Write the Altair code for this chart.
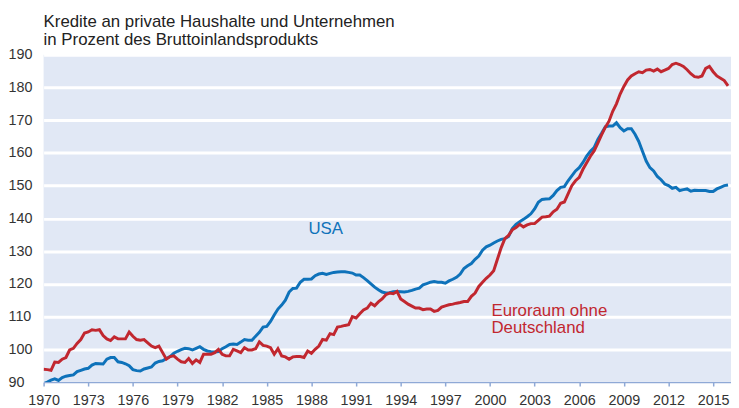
import altair as alt
import pandas as pd

# Quarterly observations, starting 1970 Q1
start_year = 1970
usa = [
    89.5, 90.0, 90.6, 91.0,   90.5, 91.4, 91.8, 92.0,   92.2, 93.2, 93.6, 94.0,
    94.2, 95.2, 95.7, 95.6,   95.5, 97.0, 97.5, 97.5,   96.2, 96.0, 95.6, 95.0,
    93.8, 93.5, 93.4, 94.0,   94.3, 94.6, 95.8, 96.3,   96.5, 97.2, 97.8, 98.8,
    99.4, 99.9, 100.3, 100.2, 99.8, 100.3, 100.8, 100.0, 99.5, 99.3, 99.2, 99.3,
    100.2, 100.8, 101.5, 101.6, 101.5, 102.2, 103.0, 102.8, 102.8, 104.0, 105.2, 106.8,
    107.0, 108.5, 110.5, 112.3, 113.5, 115.0, 117.5, 118.6, 118.7, 120.5, 121.4, 121.4,
    121.5, 122.5, 123.0, 123.2, 122.9, 123.2, 123.5, 123.6, 123.7, 123.7, 123.5, 123.3,
    122.7, 122.7, 121.9, 121.0, 120.0, 119.0, 118.2, 117.5, 117.2, 117.3, 117.6, 117.7,
    117.6, 117.5, 117.7, 118.0, 118.4, 118.7, 119.7, 120.1, 120.5, 120.7, 120.5, 120.5,
    120.2, 120.9, 121.4, 122.0, 123.0, 124.7, 125.5, 126.2, 127.5, 128.5, 130.3, 131.3,
    131.8, 132.5, 133.1, 133.6, 133.8, 134.5, 136.9, 138.2, 139.0, 139.7, 140.5, 141.4,
    142.9, 144.9, 145.8, 145.9, 146.0, 147.0, 148.5, 149.5, 149.7, 151.5, 153.0, 154.5,
    155.5, 157.1, 159.0, 160.5, 161.6, 164.1, 166.0, 168.0, 168.2, 168.2, 169.2, 167.7,
    166.7, 167.4, 167.4, 165.7, 163.5, 160.5, 157.5, 155.5, 154.5, 152.8, 151.8, 150.5,
    150.0, 149.2, 149.5, 148.5, 148.8, 149.0, 148.3, 148.6, 148.5, 148.5, 148.5, 148.2,
    148.2, 149.0, 149.5, 150.0, 150.2,
]
euro = [
    93.9, 93.8, 93.6, 96.1,   96.0, 97.0, 97.5, 99.8,   100.3, 101.8, 103.0, 105.0,
    105.3, 106.0, 105.8, 106.0, 104.2, 103.2, 102.7, 103.8, 103.2, 103.2, 103.2, 105.3,
    104.0, 103.0, 102.8, 103.0, 102.0, 101.0, 100.5, 101.0, 99.0, 97.0, 97.8, 98.0,
    97.0, 96.2, 96.0, 97.2,   95.7, 96.8, 96.0, 98.5,   98.5, 98.5, 99.0, 100.0,
    98.5, 98.0, 98.0, 100.0,  99.5, 99.0, 100.5, 99.8,  99.8, 100.2, 102.3, 101.2,
    101.0, 100.5, 98.5, 100.2, 98.0, 97.7, 97.0, 97.7,  97.8, 97.8, 97.5, 99.5,
    98.8, 100.0, 101.0, 103.0, 102.8, 104.8, 104.5, 106.8, 107.0, 107.3, 107.5, 110.0,
    109.6, 110.9, 112.0, 112.6, 114.1, 113.3, 114.5, 115.4, 116.7, 117.2, 117.0, 117.7,
    115.4, 114.6, 113.8, 113.2, 112.6, 112.6, 112.1, 112.3, 112.3, 111.6, 111.9, 112.9,
    113.3, 113.6, 113.8, 114.1, 114.3, 114.6, 114.6, 116.2, 117.2, 119.2, 120.5, 121.7,
    122.7, 124.0, 127.5, 131.0, 133.8, 134.8, 136.5, 137.2, 138.2, 137.4, 138.0, 138.4,
    138.4, 139.4, 140.4, 140.5, 140.7, 142.0, 142.8, 144.6, 145.0, 147.5, 150.0, 151.5,
    152.5, 155.0, 157.0, 159.0, 160.6, 163.0, 165.5, 167.8, 169.7, 172.7, 175.0, 178.0,
    180.3, 182.3, 183.5, 184.2, 184.8, 184.5, 185.3, 185.5, 185.0, 185.6, 184.8, 185.3,
    185.8, 187.0, 187.4, 187.0, 186.4, 185.4, 184.2, 183.3, 183.1, 183.5, 185.8, 186.4,
    184.8, 183.5, 182.8, 182.1, 180.5,
]

year_ticks = [1970, 1973, 1976, 1979, 1982, 1985, 1988, 1991, 1994, 1997,
              2000, 2003, 2006, 2009, 2012, 2015]
value_ticks = [90, 100, 110, 120, 130, 140, 150, 160, 170, 180, 190]

title_lines = ["Kredite an private Haushalte und Unternehmen",
               "in Prozent des Bruttoinlandsprodukts"]

label_texts = ["USA", "Euroraum ohne", "Deutschland"]
label_years = [1987.8, 2000.1, 2000.1]
label_values = [136.7, 111.8, 106.4]
label_series = ["USA", "Euro", "Euro"]

BLUE = "#0e72ba"
RED = "#c1272f"
FONT = "Liberation Sans"

years = [start_year + i * 0.25 for i in range(len(usa))]
df_usa = pd.DataFrame({"year": years, "value": usa})
df_euro = pd.DataFrame({"year": years[:len(euro)], "value": euro})
df_lab = pd.DataFrame({"text": label_texts, "year": label_years,
                       "value": label_values, "series": label_series})

x_scale = alt.Scale(domain=[1970, 2016.2], nice=False, zero=False)
y_scale = alt.Scale(domain=[90, 190], nice=False, zero=False)

x_axis = alt.Axis(values=year_ticks, format="d", title=None, grid=False,
                  domainColor="#8fa9d6", domainWidth=1.5, tickColor="#8fa9d6",
                  tickWidth=1.5, tickSize=4, labelPadding=8, labelFlush=False,
                  labelOverlap=False, labelFontSize=14.5, labelFont=FONT,
                  labelColor="#333333")
y_axis = alt.Axis(values=value_ticks, title=None, domain=False, ticks=False,
                  tickSize=0, labelAlign="left", labelBaseline="middle",
                  labelPadding=36, labelFontSize=14.5, labelFont=FONT,
                  labelOverlap=False, labelFlush=False,
                  labelColor="#333333", gridColor="white", gridWidth=3,
                  gridOpacity=1)

usa_line = alt.Chart(df_usa).mark_line(color=BLUE, strokeWidth=3, clip=True).encode(
    x=alt.X("year:Q", scale=x_scale, axis=x_axis),
    y=alt.Y("value:Q", scale=y_scale, axis=y_axis),
)
euro_line = alt.Chart(df_euro).mark_line(color=RED, strokeWidth=3, clip=True).encode(
    x=alt.X("year:Q", scale=x_scale, axis=x_axis),
    y=alt.Y("value:Q", scale=y_scale, axis=y_axis),
)
labels = alt.Chart(df_lab).mark_text(align="left", baseline="middle",
                                     fontSize=17, font=FONT).encode(
    x=alt.X("year:Q", scale=x_scale, axis=x_axis),
    y=alt.Y("value:Q", scale=y_scale, axis=y_axis),
    text="text:N",
    color=alt.Color("series:N", scale=alt.Scale(domain=["USA", "Euro"],
                                                range=[BLUE, RED]), legend=None),
)

chart = alt.layer(usa_line, euro_line, labels).properties(
    width=695,
    height=331,
    autosize=alt.AutoSizeParams(type="none"),
    padding={"left": 36, "top": 45, "right": 0, "bottom": 24},
    title=alt.TitleParams(title_lines, anchor="start", frame="group",
                          fontSize=17, lineHeight=18, font=FONT,
                          fontWeight="normal", color="#222222", offset=-2),
).configure_view(fill="#e1e8f5", stroke=None)

chart.save("out.html", embed_options={"renderer": "svg", "actions": False})
